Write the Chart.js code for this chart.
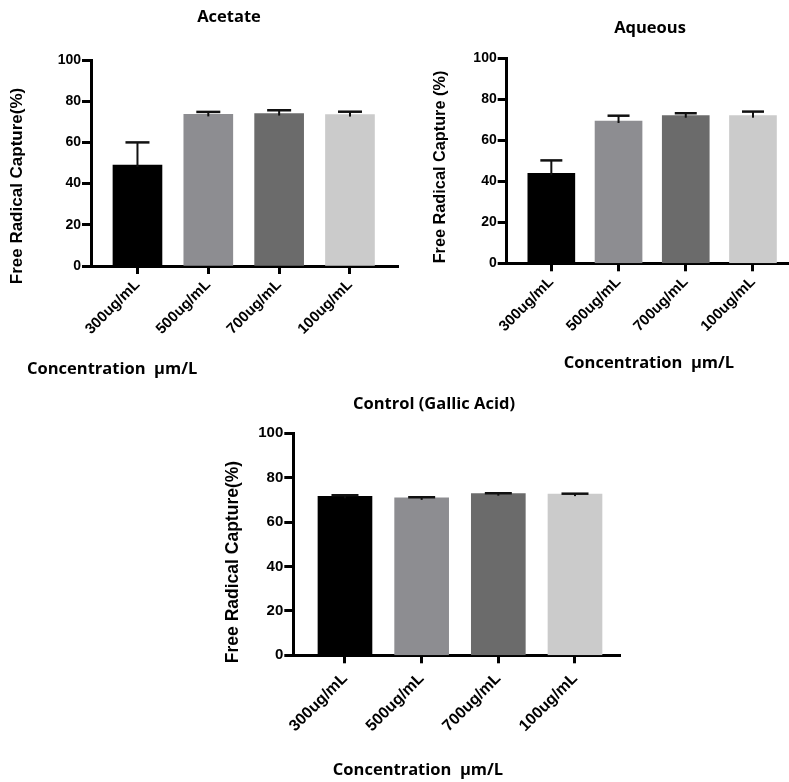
<!DOCTYPE html>
<html>
<head>
<meta charset="utf-8">
<script src="https://cdn.jsdelivr.net/npm/chart.js@4.4.0/dist/chart.umd.min.js"></script>
<style>
  body { margin: 0; background: #fff; }
  #page { position: relative; width: 789px; height: 782px; overflow: hidden; background: #fff; }
  #page canvas { position: absolute; }
</style>
</head>
<body>
<div id="page">
  <canvas id="acetate-chart" width="400" height="385" style="left:0;top:0"></canvas>
  <canvas id="aqueous-chart" width="389" height="385" style="left:400px;top:0"></canvas>
  <canvas id="gallic-chart" width="440" height="402" style="left:200px;top:380px"></canvas>
</div>
<script>
// Concentrations tested and the bar fill used for each one
const concentrations = ['300ug/mL', '500ug/mL', '700ug/mL', '100ug/mL'];
const barColors = ['#000000', '#8d8d91', '#6b6b6b', '#cbcbcb'];
const yTicks = [0, 20, 40, 60, 80, 100];

// Free radical capture (%), mean and upper error (SD)
const acetateMeans = [49.0, 73.6, 74.0, 73.5];
const acetateErrors = [11.0, 1.2, 1.6, 1.4];

const aqueousMeans = [43.9, 69.4, 72.0, 72.0];
const aqueousErrors = [6.3, 2.6, 1.2, 2.0];

const gallicMeans = [71.6, 70.9, 72.8, 72.6];
const gallicErrors = [0.5, 0.3, 0.2, 0.2];

const AXIS_FONT = 'Arial, "Liberation Sans", Helvetica, sans-serif';
const CAPTION_FONT = '"Open Sans", "DejaVu Sans", sans-serif';

document.addEventListener('DOMContentLoaded', function() {
    setupAcetateChart();
    setupAqueousChart();
    setupGallicChart();
});

// Upper-only error bars (stem + cap), placed through the chart scales
function errorBarPlugin(errors, capWidth) {
    return {
        id: 'errorBars',
        afterDatasetsDraw(chart) {
            const yScale = chart.scales.y;
            const meta = chart.getDatasetMeta(0);
            const data = chart.data.datasets[0].data;
            const ctx = chart.ctx;
            ctx.save();
            ctx.strokeStyle = '#111';
            meta.data.forEach((bar, i) => {
                const mean = data[i].y;
                const top = yScale.getPixelForValue(mean + errors[i]);
                const base = yScale.getPixelForValue(mean) + 2;
                ctx.lineWidth = 2;
                ctx.beginPath();
                ctx.moveTo(bar.x, base);
                ctx.lineTo(bar.x, top);
                ctx.stroke();
                ctx.lineWidth = 2.5;
                ctx.beginPath();
                ctx.moveTo(bar.x - capWidth / 2, top);
                ctx.lineTo(bar.x + capWidth / 2, top);
                ctx.stroke();
            });
            ctx.restore();
        }
    };
}

// Free-standing labels: panel title, y title and the concentration caption
function captionPlugin(items) {
    return {
        id: 'captions',
        afterDraw(chart) {
            const ctx = chart.ctx;
            ctx.save();
            ctx.fillStyle = '#000';
            ctx.textBaseline = 'middle';
            items.forEach(item => {
                ctx.save();
                ctx.font = item.font;
                ctx.textAlign = item.align || 'center';
                ctx.translate(item.x, item.y);
                if (item.rotate) ctx.rotate(item.rotate * Math.PI / 180);
                ctx.fillText(item.text, 0, 0);
                ctx.restore();
            });
            ctx.restore();
        }
    };
}

function buildBarChart(canvasId, means, errors, opts) {
    const ctx = document.getElementById(canvasId);
    if (!ctx) return;

    const yTickFont = { family: AXIS_FONT, size: opts.yTickSize, weight: 'bold' };
    const xTickFont = { family: AXIS_FONT, size: opts.xTickSize, weight: 'bold' };

    return new Chart(ctx, {
        type: 'bar',
        data: {
            datasets: [{
                data: means.map((v, i) => ({ x: i, y: v })),
                backgroundColor: barColors,
                borderWidth: 0,
                barThickness: opts.barWidth
            }]
        },
        options: {
            responsive: false,
            animation: false,
            layout: {
                padding: { top: opts.top, left: 0, right: opts.right, bottom: 0 }
            },
            plugins: {
                legend: { display: false },
                tooltip: { enabled: false }
            },
            scales: {
                x: {
                    type: 'linear',
                    offset: false,
                    min: opts.xMin,
                    max: opts.xMax,
                    afterBuildTicks: function(scale) {
                        scale.ticks = concentrations.map((c, i) => ({ value: i }));
                    },
                    afterFit: function(scale) {
                        scale.height = opts.xHeight;
                    },
                    ticks: {
                        callback: function(value) {
                            return concentrations[value];
                        },
                        autoSkip: false,
                        minRotation: 45,
                        maxRotation: 45,
                        padding: opts.xTickPad,
                        color: '#000',
                        font: xTickFont
                    },
                    grid: {
                        offset: false,
                        drawOnChartArea: false,
                        tickLength: 8,
                        tickWidth: 3,
                        tickColor: '#000'
                    },
                    border: { color: '#000', width: 3 }
                },
                y: {
                    min: 0,
                    max: 100,
                    afterBuildTicks: function(scale) {
                        scale.ticks = yTicks.map(v => ({ value: v }));
                    },
                    afterFit: function(scale) {
                        scale.width = opts.yWidth;
                    },
                    ticks: {
                        padding: 1,
                        color: '#000',
                        font: yTickFont
                    },
                    grid: {
                        drawOnChartArea: false,
                        tickLength: 9,
                        tickWidth: 3,
                        tickColor: '#000'
                    },
                    border: { color: '#000', width: 3 }
                }
            }
        },
        plugins: [errorBarPlugin(errors, opts.cap), captionPlugin(opts.captions)]
    });
}

// Setup acetate extract chart
function setupAcetateChart() {
    buildBarChart('acetate-chart', acetateMeans, acetateErrors, {
        top: 60, right: 2, yWidth: 91, xHeight: 119,
        xMin: -0.656, xMax: 3.678, barWidth: 49, cap: 24,
        yTickSize: 14, xTickSize: 15, xTickPad: 2,
        captions: [
            { text: 'Acetate', x: 229, y: 17, font: 'bold 16.5px ' + CAPTION_FONT },
            { text: 'Free Radical Capture(%)', x: 17, y: 186, rotate: -90, font: 'bold 17px ' + AXIS_FONT },
            { text: 'Concentration  \u03bcm/L', x: 27, y: 369, align: 'left', font: 'bold 16.5px ' + CAPTION_FONT }
        ]
    });
}

// Setup aqueous extract chart
function setupAqueousChart() {
    buildBarChart('aqueous-chart', aqueousMeans, aqueousErrors, {
        top: 58.3, right: 0, yWidth: 106.7, xHeight: 121.7,
        xMin: -0.664, xMax: 3.536, barWidth: 47, cap: 22,
        yTickSize: 14, xTickSize: 15, xTickPad: 2,
        captions: [
            { text: 'Aqueous', x: 250, y: 28, font: 'bold 16.5px ' + CAPTION_FONT },
            { text: 'Free Radical Capture (%)', x: 41, y: 167, rotate: -90, font: 'bold 16.3px ' + AXIS_FONT },
            { text: 'Concentration  \u03bcm/L', x: 249, y: 363, font: 'bold 16.5px ' + CAPTION_FONT }
        ]
    });
}

// Setup gallic acid control chart
function setupGallicChart() {
    buildBarChart('gallic-chart', gallicMeans, gallicErrors, {
        top: 53.3, right: 20, yWidth: 93.3, xHeight: 126.7,
        xMin: -0.674, xMax: 3.587, barWidth: 54, cap: 27,
        yTickSize: 15, xTickSize: 16, xTickPad: 6,
        captions: [
            { text: 'Control (Gallic Acid)', x: 234, y: 24, font: 'bold 16.5px ' + CAPTION_FONT },
            { text: 'Free Radical Capture(%)', x: 33, y: 182, rotate: -90, font: 'bold 17.5px ' + AXIS_FONT },
            { text: 'Concentration  \u03bcm/L', x: 218, y: 390, font: 'bold 16.5px ' + CAPTION_FONT }
        ]
    });
}
</script>
</body>
</html>
